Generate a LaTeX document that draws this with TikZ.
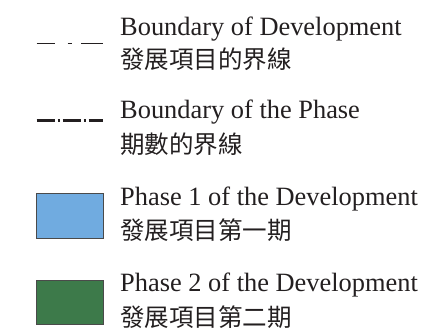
\documentclass[tikz,border=0pt]{standalone}
\usepackage{fontspec}
\setmainfont{Liberation Serif}
\newfontfamily\cjk{Noto Sans CJK TC}
\definecolor{inkc}{HTML}{231F20}
\definecolor{phaseblue}{HTML}{70ABE0}
\definecolor{phasegreen}{HTML}{3D7A4A}
\definecolor{rimc}{HTML}{4A4A4A}
\begin{document}
\begin{tikzpicture}[x=1pt,y=-1pt,
  entxt/.style={anchor=base west,inner sep=0pt,font=\fontsize{26.4}{30}\selectfont,text=inkc},
  zhtxt/.style={anchor=base west,inner sep=0pt,font=\cjk\fontsize{24.5}{28}\selectfont,text=inkc},
  swatch/.style={draw=rimc,line width=1pt}]
\useasboundingbox (0,0) rectangle (432,333);
% item 1
\coordinate (d1a) at (36.7,43.3);
\coordinate (d1b) at (103.3,43.3);
\draw[inkc,line width=1.2pt,dash pattern=on 18.3pt off 12.7pt on 4.6pt off 8.7pt on 30pt] (d1a) -- (d1b);
\node[entxt] (t1) at (120,35) {Boundary of Development};
\node[zhtxt] (z1) at (120,68.5) {發展項目的界線};
% item 2
\coordinate (d2a) at (36.7,120);
\coordinate (d2b) at (103.3,120);
\draw[inkc,line width=3pt,dash pattern=on 18pt off 3pt on 2pt off 3pt] (d2a) -- (d2b);
\node[entxt] (t2) at (120,118) {Boundary of the Phase};
\node[zhtxt] (z2) at (120,153.5) {期數的界線};
% item 3
\node[swatch,fill=phaseblue,minimum width=67pt,minimum height=45pt,inner sep=0pt] (s3) at (70.3,215.8) {};
\node[entxt] (t3) at (120,205.7) {Phase 1 of the Development};
\node[zhtxt] (z3) at (120,239.5) {發展項目第一期};
% item 4
\node[swatch,fill=phasegreen,minimum width=67pt,minimum height=44pt,inner sep=0pt] (s4) at (70.3,302.2) {};
\node[entxt] (t4) at (120,291.7) {Phase 2 of the Development};
\node[zhtxt] (z4) at (120,326.5) {發展項目第二期};
\end{tikzpicture}
\end{document}
